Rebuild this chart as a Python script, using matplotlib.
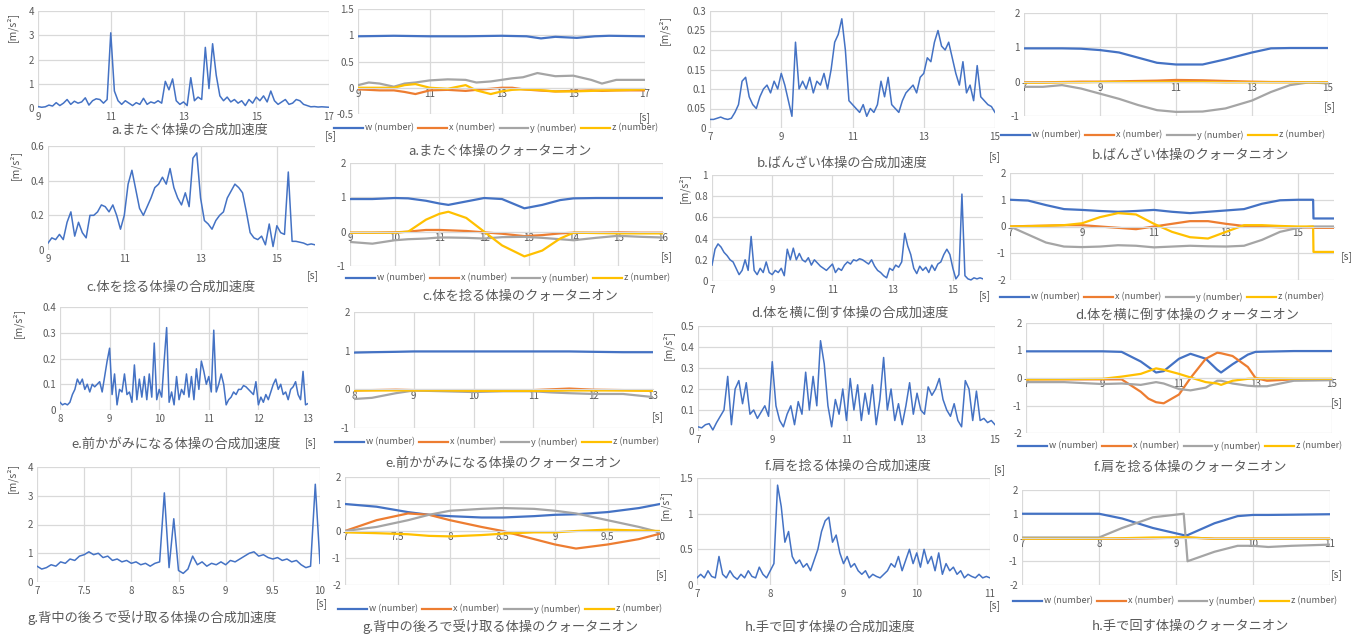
import numpy as np
import matplotlib
matplotlib.use('Agg')
from matplotlib import pyplot as plt

plt.rcParams['font.family'] = ['Noto Sans CJK JP', 'DejaVu Sans']

W, H = 1365, 639
GRAY = '#595959'
GRID = '#d9d9d9'
C_W, C_X, C_Y, C_Z = '#4472C4', '#ED7D31', '#A5A5A5', '#FFC000'

# ---------- 合成加速度 (acceleration) ----------
t_a = np.arange(9.0, 17.01, 0.1)
acc_a = [0.06, 0.03, 0.05, 0.12, 0.08, 0.22, 0.1, 0.2, 0.35, 0.15,
         0.28, 0.2, 0.25, 0.42, 0.12, 0.3, 0.38, 0.35, 0.2, 0.35,
         3.1, 0.7, 0.3, 0.15, 0.3, 0.2, 0.1, 0.22, 0.15, 0.4,
         0.15, 0.25, 0.2, 0.3, 0.2, 1.1, 0.75, 1.2, 0.3, 0.15,
         0.25, 0.1, 1.25, 0.3, 0.45, 0.35, 2.5, 0.8, 2.65, 1.35,
         0.5, 0.3, 0.45, 0.25, 0.35, 0.2, 0.3, 0.1, 0.35, 0.2,
         0.45, 0.3, 0.5, 0.25, 0.7, 0.3, 0.15, 0.25, 0.35, 0.15,
         0.2, 0.35, 0.3, 0.15, 0.1, 0.05, 0.06, 0.04, 0.05, 0.04, 0.03]

t_b = np.arange(7.0, 15.01, 0.1)
acc_b = [0.022, 0.022, 0.025, 0.028, 0.024, 0.022, 0.025, 0.04, 0.06, 0.12,
         0.13, 0.08, 0.06, 0.05, 0.08, 0.1, 0.11, 0.09, 0.12, 0.1,
         0.14, 0.11, 0.07, 0.03, 0.22, 0.1, 0.12, 0.1, 0.13, 0.09,
         0.12, 0.11, 0.14, 0.1, 0.15, 0.22, 0.24, 0.28, 0.2, 0.07,
         0.06, 0.05, 0.04, 0.06, 0.03, 0.05, 0.04, 0.06, 0.12, 0.08,
         0.13, 0.06, 0.05, 0.04, 0.07, 0.09, 0.1, 0.11, 0.09, 0.13,
         0.14, 0.18, 0.17, 0.22, 0.25, 0.21, 0.2, 0.22, 0.18, 0.14,
         0.11, 0.17, 0.09, 0.11, 0.07, 0.16, 0.08, 0.07, 0.06, 0.055, 0.04]

t_c = np.arange(9.0, 16.01, 0.1)
acc_c = [0.04, 0.07, 0.06, 0.09, 0.06, 0.16, 0.22, 0.08, 0.16, 0.1,
         0.07, 0.2, 0.2, 0.22, 0.26, 0.25, 0.22, 0.26, 0.2, 0.12,
         0.2, 0.38, 0.46, 0.35, 0.24, 0.2, 0.25, 0.3, 0.36, 0.38,
         0.42, 0.38, 0.47, 0.36, 0.3, 0.26, 0.33, 0.25, 0.53, 0.56,
         0.3, 0.17, 0.15, 0.12, 0.17, 0.2, 0.22, 0.3, 0.34, 0.38,
         0.36, 0.33, 0.22, 0.1, 0.07, 0.06, 0.08, 0.03, 0.15, 0.02,
         0.14, 0.1, 0.09, 0.45, 0.05, 0.05, 0.045, 0.04, 0.03, 0.035, 0.03]

t_d = np.arange(7.0, 16.01, 0.1)
acc_d = [0.15, 0.3, 0.35, 0.32, 0.27, 0.24, 0.2, 0.18, 0.12, 0.06,
         0.1, 0.2, 0.1, 0.42, 0.1, 0.06, 0.12, 0.08, 0.18, 0.08,
         0.06, 0.1, 0.08, 0.12, 0.05, 0.3, 0.2, 0.31, 0.2, 0.26,
         0.2, 0.18, 0.22, 0.15, 0.2, 0.17, 0.14, 0.12, 0.1, 0.13,
         0.16, 0.08, 0.12, 0.1, 0.15, 0.18, 0.16, 0.2, 0.19, 0.21,
         0.2, 0.18, 0.16, 0.2, 0.14, 0.1, 0.08, 0.05, 0.03, 0.12,
         0.1, 0.15, 0.13, 0.18, 0.45, 0.33, 0.25, 0.12, 0.07, 0.14,
         0.1, 0.13, 0.08, 0.15, 0.1, 0.16, 0.18, 0.25, 0.3, 0.25,
         0.12, 0.02, 0.06, 0.82, 0.05, 0.02, 0.01, 0.03, 0.02, 0.03, 0.02]

t_e = np.arange(8.0, 13.001, 0.05)
acc_e = [0.03, 0.02, 0.025, 0.02, 0.03, 0.06, 0.08, 0.12, 0.1, 0.12,
         0.08, 0.1, 0.07, 0.1, 0.09, 0.1, 0.11, 0.07, 0.13, 0.19,
         0.24, 0.06, 0.14, 0.02, 0.08, 0.07, 0.14, 0.06, 0.07, 0.03,
         0.175, 0.04, 0.12, 0.05, 0.13, 0.04, 0.14, 0.05, 0.26, 0.04,
         0.08, 0.05, 0.19, 0.32, 0.03, 0.07, 0.02, 0.13, 0.04, 0.08,
         0.06, 0.14, 0.05, 0.13, 0.04, 0.16, 0.08, 0.19, 0.15, 0.1,
         0.13, 0.07, 0.31, 0.07, 0.1, 0.14, 0.1, 0.02, 0.04, 0.05,
         0.07, 0.06, 0.08, 0.08, 0.095, 0.09, 0.08, 0.07, 0.06, 0.11,
         0.02, 0.05, 0.03, 0.06, 0.04, 0.07, 0.1, 0.12, 0.08, 0.1,
         0.06, 0.07, 0.04, 0.08, 0.09, 0.11, 0.06, 0.04, 0.15, 0.02, 0.025]

t_f = np.arange(7.0, 15.01, 0.1)
acc_f = [0.02, 0.015, 0.03, 0.035, 0.005, 0.04, 0.07, 0.1, 0.26, 0.03,
         0.2, 0.24, 0.13, 0.23, 0.08, 0.1, 0.06, 0.09, 0.12, 0.07,
         0.33, 0.12, 0.05, 0.02, 0.08, 0.12, 0.03, 0.14, 0.08, 0.28,
         0.1, 0.26, 0.12, 0.43, 0.32, 0.12, 0.02, 0.15, 0.08, 0.2,
         0.05, 0.25, 0.1, 0.22, 0.05, 0.18, 0.08, 0.22, 0.03, 0.15,
         0.35, 0.1, 0.2, 0.05, 0.13, 0.03, 0.12, 0.23, 0.08, 0.18,
         0.1, 0.08, 0.21, 0.17, 0.2, 0.25, 0.15, 0.1, 0.07, 0.13,
         0.05, 0.02, 0.24, 0.2, 0.05, 0.19, 0.05, 0.06, 0.04, 0.05, 0.03]

t_g = np.arange(7.0, 10.001, 0.05)
acc_g = [0.55, 0.45, 0.5, 0.6, 0.55, 0.7, 0.65, 0.8, 0.75, 0.9,
         0.95, 1.05, 0.95, 1.0, 0.85, 0.9, 0.75, 0.8, 0.7, 0.75,
         0.65, 0.7, 0.6, 0.65, 0.55, 0.65, 0.7, 3.1, 0.5, 2.2,
         0.4, 0.3, 0.45, 0.9, 0.6, 0.7, 0.55, 0.65, 0.6, 0.7,
         0.6, 0.75, 0.7, 0.8, 0.9, 1.0, 1.05, 0.9, 0.95, 0.85,
         0.8, 0.85, 0.75, 0.8, 0.7, 0.75, 0.6, 0.5, 0.55, 3.4, 0.65]

t_h = np.arange(7.0, 11.001, 0.05)
acc_h = [0.1, 0.15, 0.1, 0.2, 0.12, 0.1, 0.4, 0.15, 0.1, 0.2,
         0.12, 0.08, 0.15, 0.1, 0.2, 0.12, 0.1, 0.25, 0.15, 0.1,
         0.2, 0.3, 1.4, 1.1, 0.6, 0.75, 0.4, 0.3, 0.35, 0.25,
         0.3, 0.2, 0.35, 0.5, 0.75, 0.9, 0.95, 0.6, 0.7, 0.45,
         0.3, 0.4, 0.25, 0.3, 0.2, 0.15, 0.2, 0.1, 0.15, 0.12,
         0.1, 0.15, 0.2, 0.3, 0.25, 0.4, 0.2, 0.35, 0.5, 0.3,
         0.45, 0.25, 0.5, 0.3, 0.4, 0.2, 0.45, 0.15, 0.3, 0.2,
         0.25, 0.15, 0.2, 0.1, 0.15, 0.12, 0.1, 0.15, 0.1, 0.12, 0.1]

# ---------- クォータニオン (quaternion) ----------
qa_t_w = [9, 10, 11, 12, 13, 13.7, 14.1, 14.5, 15.1, 15.6, 16, 17]
qa_w = [0.98, 0.99, 0.98, 0.98, 0.99, 0.98, 0.94, 0.97, 0.95, 0.98, 0.99, 0.98]
qa_t_xyz = [9, 9.3, 9.6, 10, 10.3, 10.6, 11, 11.5, 12, 12.3, 12.7, 13, 13.3, 13.6,
            14, 14.5, 15, 15.5, 15.8, 16.2, 17]
qa_x = [-0.03, -0.04, -0.05, -0.05, -0.08, -0.12, -0.05, -0.04, -0.06, -0.04, -0.02, 0.0,
        0.0, -0.03, -0.05, -0.07, -0.06, -0.05, -0.06, -0.05, -0.05]
qa_y = [0.05, 0.1, 0.08, 0.02, 0.08, 0.1, 0.14, 0.16, 0.15, 0.1, 0.12, 0.15, 0.18, 0.2,
        0.28, 0.22, 0.23, 0.15, 0.08, 0.15, 0.15]
qa_z = [0.0, 0.0, 0.0, 0.0, 0.05, 0.07, 0.0, -0.02, 0.05, -0.05, -0.12, -0.07, -0.04,
        -0.03, -0.04, -0.07, -0.07, -0.06, -0.05, -0.05, -0.03]

qb_t = [7, 7.5, 8, 8.5, 9, 9.5, 10, 10.5, 11, 11.7, 12.3, 13, 13.5, 14, 14.5, 15]
qb_w = [0.97, 0.97, 0.97, 0.96, 0.92, 0.85, 0.7, 0.55, 0.5, 0.5, 0.65, 0.85, 0.97, 0.98, 0.98, 0.98]
qb_x = [-0.02, -0.02, -0.01, 0.0, 0.0, 0.01, 0.02, 0.03, 0.05, 0.04, 0.02, 0.0, -0.01, -0.01, -0.02, -0.02]
qb_y = [-0.15, -0.15, -0.1, -0.2, -0.35, -0.5, -0.68, -0.83, -0.88, -0.87, -0.78, -0.55, -0.3, -0.1, -0.02, -0.05]
qb_z = [-0.03, -0.03, -0.02, -0.02, -0.01, -0.01, -0.01, -0.01, -0.01, -0.01, -0.02, -0.02, -0.02, -0.02, -0.02, -0.02]

qc_t = [9, 9.5, 10, 10.3, 10.7, 11, 11.2, 11.6, 12, 12.4, 12.9, 13.3, 13.7, 14, 14.5, 15, 15.5, 16]
qc_w = [0.95, 0.95, 0.98, 0.97, 0.9, 0.82, 0.78, 0.88, 0.98, 0.95, 0.68, 0.78, 0.92, 0.97, 0.98, 0.98, 0.98, 0.98]
qc_x = [-0.03, -0.03, -0.02, 0.0, 0.05, 0.05, 0.04, 0.02, -0.02, -0.06, -0.13, -0.1, -0.05, -0.03, -0.03, -0.02, -0.03, -0.03]
qc_y = [-0.3, -0.35, -0.25, -0.22, -0.2, -0.17, -0.17, -0.18, -0.2, -0.16, -0.15, -0.18, -0.22, -0.25, -0.18, -0.12, -0.15, -0.17]
qc_z = [-0.03, -0.03, -0.03, 0.0, 0.35, 0.52, 0.58, 0.4, 0.0, -0.4, -0.72, -0.55, -0.2, -0.03, -0.04, -0.05, -0.05, -0.05]

qd_t = [7, 7.5, 8, 8.5, 9, 9.5, 10, 10.5, 11, 11.5, 12, 12.5, 13, 13.5, 14, 14.5, 15, 15.42, 15.43, 16]
qd_w = [1.0, 0.97, 0.8, 0.65, 0.62, 0.58, 0.55, 0.58, 0.62, 0.55, 0.5, 0.55, 0.6, 0.65, 0.85, 0.98, 1.0, 1.0, 0.3, 0.3]
qd_x = [0.0, 0.02, 0.03, 0.05, 0.05, 0.0, -0.05, -0.1, 0.0, 0.1, 0.2, 0.2, 0.1, 0.02, 0.0, -0.03, -0.03, -0.04, -0.05, -0.05]
qd_y = [0.0, -0.3, -0.6, -0.75, -0.77, -0.75, -0.7, -0.72, -0.78, -0.75, -0.72, -0.74, -0.75, -0.72, -0.5, -0.2, -0.05, 0.0, 0.0, 0.0]
qd_z = [0.0, 0.01, 0.03, 0.05, 0.12, 0.35, 0.5, 0.45, 0.1, -0.2, -0.4, -0.45, -0.2, 0.05, 0.05, 0.02, 0.0, 0.0, -0.95, -0.95]

qe_t = [8, 8.3, 8.7, 9, 9.5, 10, 10.5, 11, 11.3, 11.6, 12, 12.5, 13]
qe_w = [0.95, 0.96, 0.97, 0.98, 0.98, 0.98, 0.98, 0.98, 0.98, 0.98, 0.97, 0.96, 0.96]
qe_x = [-0.03, -0.02, -0.01, -0.02, -0.02, -0.02, -0.02, -0.02, 0.0, 0.02, -0.01, -0.02, -0.03]
qe_y = [-0.25, -0.22, -0.1, -0.03, -0.05, -0.07, -0.05, -0.05, -0.08, -0.1, -0.12, -0.12, -0.2]
qe_z = [-0.03, -0.03, -0.03, -0.03, -0.03, -0.04, -0.04, -0.04, -0.04, -0.03, -0.03, -0.03, -0.04]

qf_t = [7, 8, 9, 9.5, 10, 10.2, 10.4, 10.6, 11, 11.3, 11.7, 12, 12.1, 12.4, 12.8, 13, 13.3, 14, 15]
qf_w = [0.97, 0.97, 0.97, 0.95, 0.6, 0.4, 0.2, 0.25, 0.7, 0.88, 0.7, 0.3, 0.2, 0.5, 0.85, 0.95, 0.96, 0.98, 0.98]
qf_x = [-0.05, -0.05, -0.05, -0.05, -0.5, -0.75, -0.88, -0.92, -0.6, 0.0, 0.7, 0.92, 0.9, 0.8, 0.4, 0.0, -0.1, -0.05, -0.05]
qf_y = [-0.15, -0.15, -0.22, -0.2, -0.25, -0.2, -0.15, -0.2, -0.4, -0.45, -0.35, -0.1, -0.1, -0.2, -0.28, -0.3, -0.3, -0.1, -0.08]
qf_z = [-0.05, -0.04, -0.03, 0.05, 0.15, 0.25, 0.35, 0.3, 0.15, 0.02, -0.15, -0.2, -0.25, -0.1, -0.03, -0.02, -0.02, -0.03, -0.03]

qg_t = [7, 7.3, 7.6, 7.8, 8, 8.3, 8.5, 8.8, 9, 9.2, 9.5, 9.8, 10]
qg_w = [1.0, 0.9, 0.7, 0.6, 0.55, 0.5, 0.5, 0.55, 0.6, 0.62, 0.7, 0.85, 1.0]
qg_x = [0.0, 0.4, 0.65, 0.6, 0.4, 0.15, 0.0, -0.3, -0.5, -0.65, -0.5, -0.3, -0.1]
qg_y = [0.0, 0.15, 0.4, 0.6, 0.75, 0.82, 0.85, 0.82, 0.75, 0.65, 0.4, 0.15, -0.05]
qg_z = [-0.05, -0.08, -0.12, -0.18, -0.2, -0.15, -0.1, -0.05, -0.05, 0.0, 0.05, 0.02, 0.0]

qh_t = [7, 7.5, 8, 8.3, 8.7, 9.1, 9.15, 9.5, 9.8, 10, 10.2, 10.5, 11]
qh_w = [1.0, 1.0, 1.0, 0.8, 0.4, 0.1, 0.1, 0.6, 0.9, 0.95, 0.95, 0.96, 0.98]
qh_x = [-0.05, -0.05, -0.05, -0.05, -0.03, 0.0, 0.0, -0.05, -0.05, -0.05, -0.05, -0.05, -0.05]
qh_y = [0.0, 0.0, 0.0, 0.4, 0.85, 1.0, -1.0, -0.6, -0.35, -0.35, -0.4, -0.35, -0.3]
qh_z = [-0.05, -0.05, -0.05, -0.03, 0.0, 0.0, 0.0, -0.05, -0.05, -0.05, -0.05, -0.05, -0.05]

fig = plt.figure(figsize=(W / 100, H / 100), dpi=100)


def add_ax(l, t, r, b):
    return fig.add_axes([l / W, 1 - b / H, (r - l) / W, (b - t) / H])


def ftext(x, y, s, **kw):
    fig.text(x / W, 1 - y / H, s, color=GRAY, ha='center', va='center', **kw)


def style(ax, xlim, xticks, ylim, yticks):
    ax.set_xlim(*xlim)
    ax.set_ylim(*ylim)
    ax.set_xticks(xticks)
    ax.set_yticks(yticks)
    ax.set_xticklabels([f'{v:g}' for v in xticks])
    ax.set_yticklabels([f'{v:g}' for v in yticks])
    ax.grid(True, color=GRID, lw=0.9)
    ax.set_axisbelow(True)
    for s in ax.spines.values():
        s.set_visible(False)
    ax.tick_params(length=0, labelsize=7, colors=GRAY, pad=3)


def accel(box, t, v, xlim, xticks, ylim, yticks, cap, cap_xy, s_xy, yl_xy):
    ax = add_ax(*box)
    style(ax, xlim, xticks, ylim, yticks)
    ax.plot(t, v, color=C_W, lw=1.1)
    ftext(*cap_xy, cap, fontsize=9.5)
    ftext(*s_xy, '[s]', fontsize=7.5)
    ftext(*yl_xy, '[m/s²]', fontsize=7.5, rotation=90)
    return ax


def quat(box, tw, w, txyz, x, y, z, xlim, xticks, ylim, yticks, leg_xy, cap, cap_xy, s_xy):
    ax = add_ax(*box)
    style(ax, xlim, xticks, ylim, yticks)
    ax.spines['bottom'].set_visible(True)
    ax.spines['bottom'].set_position(('data', 0))
    ax.spines['bottom'].set_color(GRID)
    ax.tick_params(axis='x', pad=1)
    lines = [ax.plot(tw, w, color=C_W, lw=1.6)[0],
             ax.plot(txyz, x, color=C_X, lw=1.6)[0],
             ax.plot(txyz, y, color=C_Y, lw=1.6)[0],
             ax.plot(txyz, z, color=C_Z, lw=1.6)[0]]
    fig.legend(lines, ['w (number)', 'x (number)', 'y (number)', 'z (number)'],
               loc='center', bbox_to_anchor=(leg_xy[0] / W, 1 - leg_xy[1] / H),
               ncol=4, frameon=False, fontsize=6.5, handlelength=3.2,
               columnspacing=0.5, handletextpad=0.2, labelcolor=GRAY)
    ftext(*cap_xy, cap, fontsize=9.5)
    ftext(*s_xy, '[s]', fontsize=7.5)
    return ax


odd7 = [7, 9, 11, 13, 15]
odd9 = [9, 11, 13, 15]

accel((38, 11, 329, 108), t_a, acc_a, (9, 17), [9, 11, 13, 15, 17], (0, 4), [0, 1, 2, 3, 4],
      'a.またぐ体操の合成加速度', (190, 130), (331, 136), (12, 27))
accel((710, 11, 995, 128), t_b, acc_b, (7, 15), odd7, (0, 0.3), [0, 0.05, 0.1, 0.15, 0.2, 0.25, 0.3],
      'b.ばんざい体操の合成加速度', (842, 163), (995, 157), (664, 30))
accel((48, 146, 315, 250), t_c, acc_c, (9, 16), odd9, (0, 0.6), [0, 0.2, 0.4, 0.6],
      'c.体を捻る体操の合成加速度', (171, 287), (313, 276), (15, 165))
accel((712, 175, 983, 281), t_d, acc_d, (7, 16), odd7, (0, 1), [0, 0.2, 0.4, 0.6, 0.8, 1],
      'd.体を横に倒す体操の合成加速度', (850, 313), (985, 296), (684, 188))
accel((60, 307, 308, 410), t_e, acc_e, (8, 13), [8, 9, 10, 11, 12, 13], (0, 0.4), [0, 0.1, 0.2, 0.3, 0.4],
      'e.前かがみになる体操の合成加速度', (176, 444), (311, 443), (18, 323))
accel((698, 326, 995, 431), t_f, acc_f, (7, 15), odd7, (0, 0.5), [0, 0.1, 0.2, 0.3, 0.4, 0.5],
      'f.肩を捻る体操の合成加速度', (848, 466), (1000, 470), (668, 345))
accel((37, 467, 320, 582), t_g, acc_g, (7, 10), [7, 7.5, 8, 8.5, 9, 9.5, 10], (0, 4), [0, 1, 2, 3, 4],
      'g.背中の後ろで受け取る体操の合成加速度', (152, 618), (322, 604), (12, 478))
accel((697, 478, 990, 585), t_h, acc_h, (7, 11), [7, 8, 9, 10, 11], (0, 1.5), [0, 0.5, 1, 1.5],
      'h.手で回す体操の合成加速度', (830, 627), (995, 606), (665, 505))

quat((358, 9, 645, 114), qa_t_w, qa_w, qa_t_xyz, qa_x, qa_y, qa_z, (9, 17), [9, 11, 13, 15, 17],
     (-0.5, 1.5), [-0.5, 0, 0.5, 1, 1.5], (496, 128), 'a.またぐ体操のクォータニオン', (500, 151), (645, 118))
quat((1024, 13, 1328, 116), qb_t, qb_w, qb_t, qb_x, qb_y, qb_z, (7, 15), odd7,
     (-1, 2), [-1, 0, 1, 2], (1163, 135), 'b.ばんざい体操のクォータニオン', (1190, 155), (1330, 107))
quat((350, 163, 663, 266), qc_t, qc_w, qc_t, qc_x, qc_y, qc_z, (9, 16), [9, 10, 11, 12, 13, 14, 15, 16],
     (-1, 2), [-1, 0, 1, 2], (508, 278), 'c.体を捻る体操のクォータニオン', (520, 296), (667, 257))
quat((1010, 173, 1334, 280), qd_t, qd_w, qd_t, qd_x, qd_y, qd_z, (7, 16), odd7,
     (-2, 2), [-2, -1, 0, 1, 2], (1162, 297), 'd.体を横に倒す体操のクォータニオン', (1187, 315), (1347, 257))
quat((354, 312, 653, 428), qe_t, qe_w, qe_t, qe_x, qe_y, qe_z, (8, 13), [8, 9, 10, 11, 12, 13],
     (-1, 2), [-1, 0, 1, 2], (497, 442), 'e.前かがみになる体操のクォータニオン', (503, 463), (658, 417))
quat((1026, 323, 1332, 433), qf_t, qf_w, qf_t, qf_x, qf_y, qf_z, (7, 15), odd7,
     (-2, 2), [-2, -1, 0, 1, 2], (1180, 446), 'f.肩を捻る体操のクォータニオン', (1190, 467), (1337, 403))
quat((345, 477, 660, 585), qg_t, qg_w, qg_t, qg_x, qg_y, qg_z, (7, 10), [7, 7.5, 8, 8.5, 9, 9.5, 10],
     (-2, 2), [-2, -1, 0, 1, 2], (500, 609), 'g.背中の後ろで受け取る体操のクォータニオン', (500, 627), (662, 575))
quat((1022, 490, 1330, 585), qh_t, qh_w, qh_t, qh_x, qh_y, qh_z, (7, 11), [7, 8, 9, 10, 11],
     (-2, 2), [-2, -1, 0, 1, 2], (1175, 601), 'h.手で回す体操のクォータニオン', (1190, 626), (1337, 575))

fig.savefig('out.png', dpi=100)
